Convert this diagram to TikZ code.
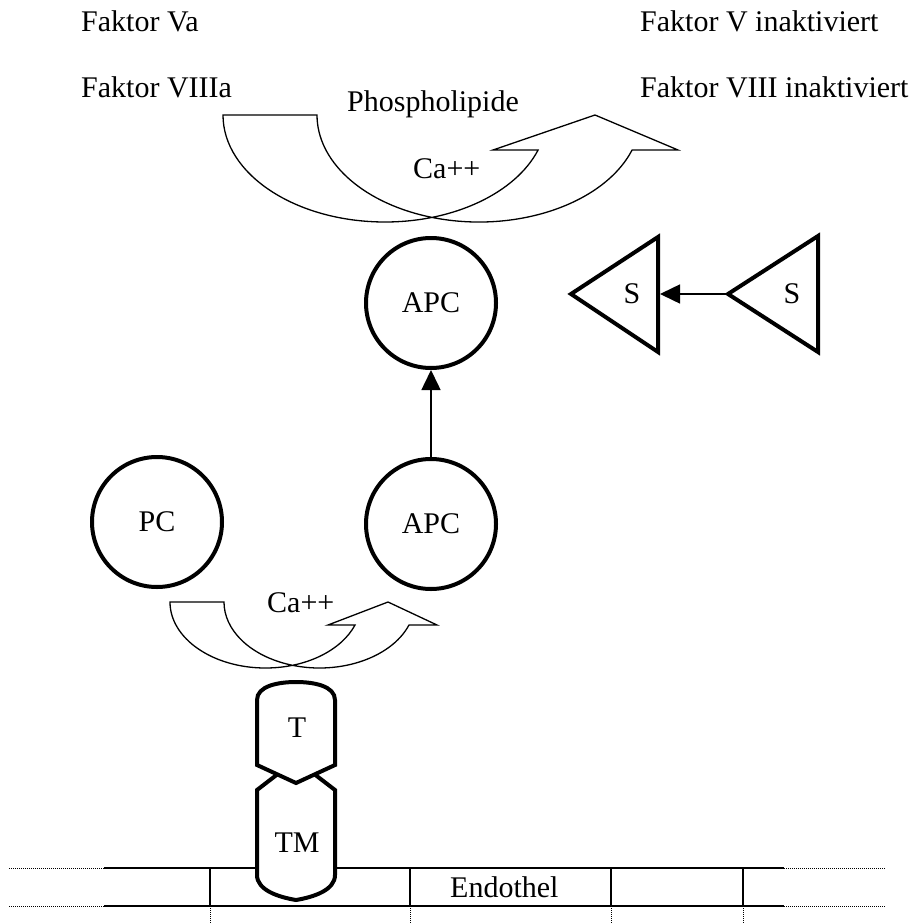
\documentclass[tikz,border=0pt]{standalone}
\usepackage{fontspec}
\setmainfont{Liberation Serif}
\usetikzlibrary{arrows.meta}
\begin{document}
\begin{tikzpicture}[x=1pt,y=-1pt,
  txt/.style={font=\fontsize{30}{36}\selectfont, inner sep=0pt},
  lbl/.style={txt, anchor=base west},
  clbl/.style={txt, anchor=base},
  arcline/.style={line width=1.3pt},
  heavy/.style={line width=4pt},
  circ/.style={circle, draw, line width=4pt, minimum size=130pt, inner sep=0pt, font=\fontsize{30}{36}\selectfont},
  arr/.style={line width=1.5pt, -{Triangle[length=20pt,width=19pt]}},
  memline/.style={line width=2.5pt},
  sepline/.style={line width=1.2pt},
  dots/.style={line width=0.8pt, dash pattern=on 0.8pt off 1.2pt},
]
\useasboundingbox (0,0) rectangle (917,923);

% texts
\node[lbl] (fva) at (81,32) {Faktor Va};
\node[lbl] (fviiia) at (81,98) {Faktor VIIIa};
\node[lbl] (fvi) at (640,32) {Faktor V inaktiviert};
\node[lbl] (fviiii) at (640,98) {Faktor VIII inaktiviert};
\node[lbl] (phos) at (347,112) {Phospholipide};
\node[lbl] (ca1) at (413,178) {Ca++};
\node[lbl] (ca2) at (267,612) {Ca++};

% top curved arrow
\draw[arcline] (223,115) arc[start angle=180, end angle=19.09, x radius=162, y radius=107]
  -- (493,150) -- (595,115) -- (678,150) -- (632.1,150)
  arc[start angle=19.09, end angle=180, x radius=162, y radius=107] -- cycle;

% bottom curved arrow
\draw[arcline] (170,602) arc[start angle=180, end angle=20.4, x radius=95.5, y radius=66]
  -- (328,625) -- (388,602) -- (437,625) -- (409,625)
  arc[start angle=20.4, end angle=180, x radius=95.5, y radius=66] -- cycle;

% circles
\node[circ] (apc1) at (431,303) {APC};
\node[circ] (apc2) at (431,524) {APC};
\node[circ] (pc) at (157,522) {PC};
\draw[arr] (apc2) -- (apc1);

% triangles S
\draw[heavy] (571,294) -- (658,237) -- (658,352) -- cycle;
\draw[heavy] (728,294) -- (818,236) -- (818,352) -- cycle;
\node[txt] (s1) at (632,294) {S};
\node[txt] (s2) at (792,294) {S};
\coordinate (s1edge) at (660,294);
\coordinate (s2tip) at (726,294);
\draw[arr] (s2tip) -- (s1edge);

% Endothel
\draw[memline] (104,868) -- (784,868);
\draw[memline] (104,906) -- (784,906);
\draw[dots] (9,868) -- (104,868);
\draw[dots] (9,906) -- (104,906);
\draw[dots] (784,868) -- (885,868);
\draw[dots] (784,906) -- (885,906);
\foreach \x in {210,410,611,743} {
  \draw[sepline] (\x,868) -- (\x,906);
  \draw[dots] (\x,906) -- (\x,923);
}
\node[lbl] (endo) at (450,897) {Endothel};

% TM and T
\draw[heavy, fill=white] (257,790) -- (257,875) .. controls (257,890) and (278,897) .. (296,900)
  .. controls (314,897) and (335,890) .. (335,875) -- (335,790) -- (296,760) -- cycle;
\draw[heavy, fill=white] (257,700) .. controls (257,686) and (278,682) .. (296,682)
  .. controls (314,682) and (335,686) .. (335,700) -- (335,765) -- (296,783) -- (257,765) -- cycle;
\node[clbl] (t) at (297,737) {T};
\node[clbl] (tm) at (297,852) {TM};
\end{tikzpicture}
\end{document}
